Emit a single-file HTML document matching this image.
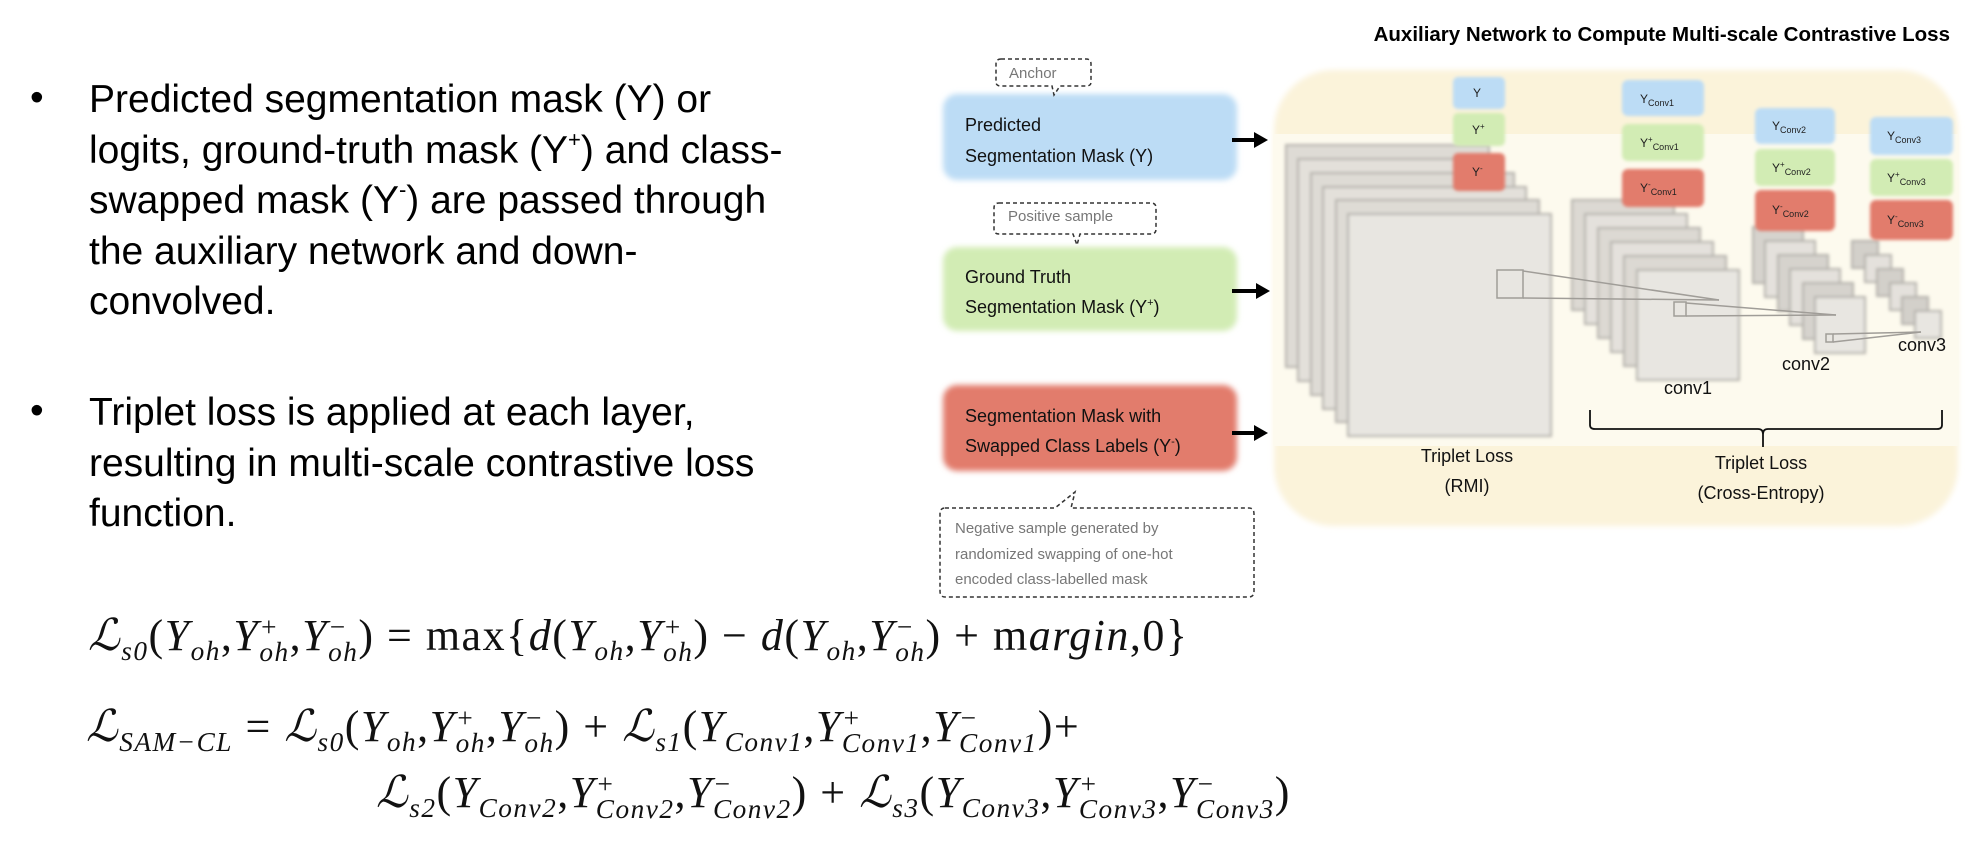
<!DOCTYPE html>
<html><head><meta charset="utf-8"><style>
html,body{margin:0;padding:0;background:#fff;}
body{width:1969px;height:844px;position:relative;overflow:hidden;font-family:"Liberation Sans",sans-serif;}
.b{position:absolute;font-size:39px;line-height:50.5px;color:#000;}
.b sup{font-size:22px;line-height:0;vertical-align:baseline;position:relative;top:-16px;}
.dot{position:absolute;font-size:39px;}
.eq{position:absolute;font-family:"Liberation Serif",serif;font-size:44px;letter-spacing:1.5px;white-space:nowrap;color:#111;}
.eq i{font-style:italic;}
.ss{display:inline-block;vertical-align:middle;line-height:0.9;font-size:0.62em;font-style:italic;text-align:left;}
.ss span{display:block;}
.eq sub{font-size:0.62em;font-style:italic;line-height:0;}
</style></head><body>
<div class="dot" style="left:30px;top:76px;">•</div>
<div class="b" style="left:89px;top:75px;">Predicted segmentation mask (Y) or<br>logits, ground-truth mask (Y<sup>+</sup>) and class-<br>swapped mask (Y<sup>-</sup>) are passed through<br>the auxiliary network and down-<br>convolved.</div>
<div class="dot" style="left:30px;top:389px;">•</div>
<div class="b" style="left:89px;top:388px;">Triplet loss is applied at each layer,<br>resulting in multi-scale contrastive loss<br>function.</div>

<div class="eq" style="left:88px;top:610px;"><i>ℒ</i><sub>s0</sub>(<i>Y</i><sub>oh</sub>,<i>Y</i><span class="ss"><span>+</span><span>oh</span></span>,<i>Y</i><span class="ss"><span>−</span><span>oh</span></span>) = max{<i>d</i>(<i>Y</i><sub>oh</sub>,<i>Y</i><span class="ss"><span>+</span><span>oh</span></span>) − <i>d</i>(<i>Y</i><sub>oh</sub>,<i>Y</i><span class="ss"><span>−</span><span>oh</span></span>) + m<i>argin</i>,0}</div>
<div class="eq" style="left:86px;top:701px;"><i>ℒ</i><sub>SAM−CL</sub> = <i>ℒ</i><sub>s0</sub>(<i>Y</i><sub>oh</sub>,<i>Y</i><span class="ss"><span>+</span><span>oh</span></span>,<i>Y</i><span class="ss"><span>−</span><span>oh</span></span>) + <i>ℒ</i><sub>s1</sub>(<i>Y</i><sub>Conv1</sub>,<i>Y</i><span class="ss"><span>+</span><span>Conv1</span></span>,<i>Y</i><span class="ss"><span>−</span><span>Conv1</span></span>)+</div>
<div class="eq" style="left:376px;top:767px;"><i>ℒ</i><sub>s2</sub>(<i>Y</i><sub>Conv2</sub>,<i>Y</i><span class="ss"><span>+</span><span>Conv2</span></span>,<i>Y</i><span class="ss"><span>−</span><span>Conv2</span></span>) + <i>ℒ</i><sub>s3</sub>(<i>Y</i><sub>Conv3</sub>,<i>Y</i><span class="ss"><span>+</span><span>Conv3</span></span>,<i>Y</i><span class="ss"><span>−</span><span>Conv3</span></span>)</div>

<svg width="1969" height="844" style="position:absolute;left:0;top:0" xmlns="http://www.w3.org/2000/svg" font-family="Liberation Sans, sans-serif">
<defs>
<filter id="bl" x="-20%" y="-20%" width="140%" height="140%"><feGaussianBlur stdDeviation="3"/></filter>
<filter id="bl2" x="-20%" y="-20%" width="140%" height="140%"><feGaussianBlur stdDeviation="1.5"/></filter>
</defs>
<text x="1950" y="41" text-anchor="end" font-weight="bold" font-size="20.5" fill="#000">Auxiliary Network to Compute Multi-scale Contrastive Loss</text>
<rect x="1274" y="70" width="684" height="456" rx="60" fill="#fbf3da" filter="url(#bl)"/>
<rect x="1274" y="134" width="684" height="312" fill="#fdfaee"/>
<rect x="943" y="94" width="294" height="86" rx="14" fill="#bcdcf5" filter="url(#bl)"/>
<rect x="943" y="247" width="294" height="84" rx="14" fill="#d2ecb4" filter="url(#bl)"/>
<rect x="943" y="385" width="294" height="86" rx="14" fill="#e27b6c" filter="url(#bl)"/>
<g font-size="18" fill="#111">
<text x="965" y="131">Predicted</text><text x="965" y="162">Segmentation Mask (Y)</text>
<text x="965" y="283">Ground Truth</text><text x="965" y="313">Segmentation Mask (Y<tspan font-size="11" dy="-7">+</tspan><tspan dy="7">)</tspan></text>
<text x="965" y="422">Segmentation Mask with</text><text x="965" y="452">Swapped Class Labels (Y<tspan font-size="11" dy="-7">-</tspan><tspan dy="7">)</tspan></text>
</g>
<g fill="#000" stroke="#000" stroke-width="4">
<line x1="1232" y1="140" x2="1256" y2="140"/><polygon points="1254,132 1268,140 1254,148" stroke="none"/>
<line x1="1232" y1="291" x2="1258" y2="291"/><polygon points="1256,283 1270,291 1256,299" stroke="none"/>
<line x1="1232" y1="433" x2="1256" y2="433"/><polygon points="1254,425 1268,433 1254,441" stroke="none"/>
</g>
<g fill="#fff" stroke="#333" stroke-width="1.5" stroke-dasharray="4,3">
<path d="M1001,59 H1086 Q1091,59 1091,64 V82 Q1091,86 1086,86 L1060,86 L1054,95 L1052,86 H1001 Q996,86 996,82 V64 Q996,59 1001,59 Z"/>
<path d="M999,203 H1151 Q1156,203 1156,208 V229 Q1156,234 1151,234 L1080,234 L1077,245 L1073,234 H999 Q994,234 994,229 V208 Q994,203 999,203 Z"/>
<path d="M945,508 L1055,508 L1075,492 L1071,508 H1249 Q1254,508 1254,514 V591 Q1254,597 1249,597 H945 Q940,597 940,591 V514 Q940,508 945,508 Z"/>
</g>
<g fill="#777" font-size="15">
<text x="1009" y="78">Anchor</text>
<text x="1008" y="221">Positive sample</text>
<text x="955" y="533">Negative sample generated by</text>
<text x="955" y="559">randomized swapping of one-hot</text>
<text x="955" y="584">encoded class-labelled mask</text>
</g>
<g fill="#dedbd5" stroke="#b3b0aa" stroke-width="2" filter="url(#bl2)">
<rect x="1286" y="145" width="203" height="222"/>
<rect x="1298" y="159" width="203" height="222" fill="#e3e0da"/>
<rect x="1311" y="173" width="203" height="222"/>
<rect x="1323" y="187" width="203" height="222" fill="#e3e0da"/>
<rect x="1336" y="200" width="203" height="222"/>
<rect x="1348" y="214" width="203" height="222" fill="#e8e6e1"/>
</g>
<g fill="#dcd9d3" stroke="#b3b0aa" stroke-width="2" filter="url(#bl2)">
<rect x="1572" y="200" width="102" height="110"/>
<rect x="1585" y="214" width="102" height="110" fill="#e4e1dc"/>
<rect x="1598" y="228" width="102" height="110"/>
<rect x="1611" y="242" width="102" height="110" fill="#e4e1dc"/>
<rect x="1624" y="256" width="102" height="110"/>
<rect x="1637" y="270" width="102" height="110" fill="#e8e6e1"/>
</g>
<g fill="#d6d3cd" stroke="#b3b0aa" stroke-width="2" filter="url(#bl2)">
<rect x="1753" y="227" width="50" height="56"/>
<rect x="1765" y="241" width="50" height="56" fill="#e4e1dc"/>
<rect x="1778" y="255" width="50" height="56"/>
<rect x="1790" y="269" width="50" height="56" fill="#e4e1dc"/>
<rect x="1803" y="283" width="50" height="56"/>
<rect x="1815" y="297" width="50" height="56" fill="#e8e6e1"/>
</g>
<g fill="#d3d0ca" stroke="#b3b0aa" stroke-width="2" filter="url(#bl2)">
<rect x="1852" y="241" width="26" height="27"/>
<rect x="1865" y="255" width="26" height="27" fill="#e4e1dc"/>
<rect x="1877" y="269" width="26" height="27"/>
<rect x="1890" y="283" width="26" height="27" fill="#e4e1dc"/>
<rect x="1902" y="297" width="26" height="27"/>
<rect x="1915" y="311" width="26" height="27" fill="#e8e6e1"/>
</g>
<g fill="none" stroke="#a09d98" stroke-width="1.5">
<rect x="1497" y="270" width="26" height="28"/>
<line x1="1523" y1="271" x2="1719" y2="300"/><line x1="1523" y1="298" x2="1719" y2="300"/>
<rect x="1674" y="302" width="12" height="14"/>
<line x1="1686" y1="303" x2="1836" y2="315"/><line x1="1686" y1="316" x2="1836" y2="315"/>
<rect x="1826" y="334" width="7" height="8"/>
<line x1="1833" y1="334" x2="1921" y2="332"/><line x1="1833" y1="342" x2="1921" y2="332"/>
</g>
<g filter="url(#bl2)">
<rect x="1453" y="77" width="52" height="32" rx="5" fill="#bcdcf5"/>
<rect x="1453" y="113" width="52" height="33" rx="5" fill="#d2ecb4"/>
<rect x="1453" y="153" width="52" height="38" rx="5" fill="#e27b6c"/>
<rect x="1622" y="80" width="82" height="36" rx="6" fill="#bcdcf5"/>
<rect x="1622" y="124" width="82" height="37" rx="6" fill="#d2ecb4"/>
<rect x="1622" y="169" width="82" height="38" rx="6" fill="#e27b6c"/>
<rect x="1755" y="108" width="80" height="36" rx="6" fill="#bcdcf5"/>
<rect x="1755" y="149" width="80" height="37" rx="6" fill="#d2ecb4"/>
<rect x="1755" y="190" width="80" height="41" rx="6" fill="#e27b6c"/>
<rect x="1870" y="117" width="83" height="38" rx="6" fill="#bcdcf5"/>
<rect x="1870" y="159" width="83" height="37" rx="6" fill="#d2ecb4"/>
<rect x="1870" y="200" width="83" height="40" rx="6" fill="#e27b6c"/>
</g>
<g font-size="12" fill="#222">
<text x="1473" y="97">Y</text>
<text x="1472" y="134">Y<tspan font-size="8" dy="-5">+</tspan></text>
<text x="1472" y="176">Y<tspan font-size="8" dy="-5">-</tspan></text>
<text x="1640" y="103">Y<tspan font-size="9" dy="3">Conv1</tspan></text>
<text x="1640" y="147">Y<tspan font-size="8" dy="-5">+</tspan><tspan font-size="9" dy="8">Conv1</tspan></text>
<text x="1640" y="192">Y<tspan font-size="8" dy="-5">-</tspan><tspan font-size="9" dy="8">Conv1</tspan></text>
<text x="1772" y="130">Y<tspan font-size="9" dy="3">Conv2</tspan></text>
<text x="1772" y="172">Y<tspan font-size="8" dy="-5">+</tspan><tspan font-size="9" dy="8">Conv2</tspan></text>
<text x="1772" y="214">Y<tspan font-size="8" dy="-5">-</tspan><tspan font-size="9" dy="8">Conv2</tspan></text>
<text x="1887" y="140">Y<tspan font-size="9" dy="3">Conv3</tspan></text>
<text x="1887" y="182">Y<tspan font-size="8" dy="-5">+</tspan><tspan font-size="9" dy="8">Conv3</tspan></text>
<text x="1887" y="224">Y<tspan font-size="8" dy="-5">-</tspan><tspan font-size="9" dy="8">Conv3</tspan></text>
</g>
<g font-size="18" fill="#111" text-anchor="middle">
<text x="1688" y="394">conv1</text>
<text x="1806" y="370">conv2</text>
<text x="1922" y="351">conv3</text>
<text x="1467" y="462">Triplet Loss</text>
<text x="1467" y="492">(RMI)</text>
<text x="1761" y="469">Triplet Loss</text>
<text x="1761" y="499">(Cross-Entropy)</text>
</g>
<path d="M1590,410 V425 Q1590,429 1595,429 H1758 Q1763,429 1763,434 V447 M1763,434 Q1763,429 1768,429 H1937 Q1942,429 1942,425 V410" fill="none" stroke="#111" stroke-width="1.8"/>
</svg>
</body></html>
